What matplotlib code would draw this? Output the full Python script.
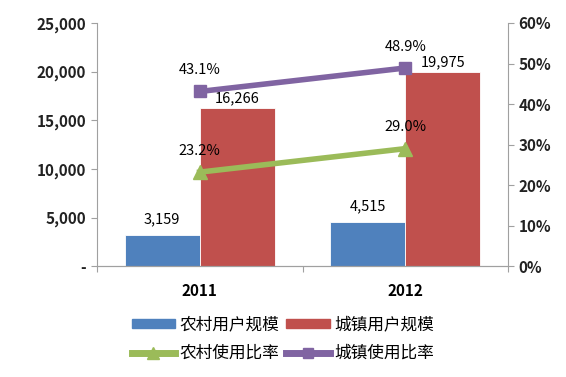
import matplotlib.pyplot as plt
import numpy as np
from matplotlib.lines import Line2D
from matplotlib.patches import Patch

plt.rcParams['font.family'] = ['Noto Sans CJK SC', 'DejaVu Sans']

years = ["2011", "2012"]
rural_users = [3159, 4515]
urban_users = [16266, 19975]
rural_rate = [23.2, 29.0]
urban_rate = [43.1, 48.9]

blue = "#4F81BD"
red = "#C0504D"
green = "#9BBB59"
purple = "#8064A2"
gray = "#A0A0A0"


def main() -> None:
    fig = plt.figure(figsize=(5.66, 3.77), dpi=100)
    ax = fig.add_axes([0.171, 0.294, 0.727, 0.645])
    x = np.arange(len(years))
    w = 0.365

    ax.bar(x - w / 2, rural_users, w, color=blue, edgecolor="white", linewidth=0.6)
    ax.bar(x + w / 2, urban_users, w, color=red, edgecolor="white", linewidth=0.6)
    for xi, v in zip(x - w / 2, rural_users):
        ax.text(xi, v + 900, f"{v:,}", ha="center", va="bottom", fontsize=10.5)
    for xi, v in zip(x + w / 2, urban_users):
        ax.text(xi, v + 300, f"{v:,}", ha="center", va="bottom", fontsize=10.5)

    ax.set_xlim(-0.5, 1.5)
    ax.set_ylim(0, 25000)
    ax.set_yticks(np.arange(0, 25001, 5000))
    ax.set_yticklabels(["-"] + [f"{v:,}" for v in range(5000, 25001, 5000)],
                       fontsize=11, fontweight="bold", color="#222222")
    ax.set_xticks([-0.5, 0.5, 1.5])
    ax.set_xticklabels([])
    for xi, yr in zip(x, years):
        ax.text(xi, -0.07, yr, transform=ax.get_xaxis_transform(), ha="center",
                va="top", fontsize=11, fontweight="bold")

    ax2 = ax.twinx()
    ax2.plot(x, rural_rate, color=green, lw=4, marker="^", ms=10, zorder=3)
    ax2.plot(x, urban_rate, color=purple, lw=4, marker="s", ms=8, zorder=3)
    for xi, v in zip(x, rural_rate):
        ax2.text(xi, v + 3.5, f"{v:.1f}%", ha="center", va="bottom", fontsize=10.5)
    for xi, v in zip(x, urban_rate):
        ax2.text(xi, v + 3.5, f"{v:.1f}%", ha="center", va="bottom", fontsize=10.5)
    ax2.set_ylim(0, 60)
    ax2.set_yticks(np.arange(0, 61, 10))
    ax2.set_yticklabels([f"{v}%" for v in range(0, 61, 10)],
                        fontsize=11, fontweight="bold", color="#222222")

    for a in (ax, ax2):
        a.spines["top"].set_visible(False)
        for s in ("left", "right", "bottom"):
            a.spines[s].set_color(gray)
        a.tick_params(colors=gray, length=4, labelcolor="#222222")
    ax.spines["right"].set_visible(False)
    ax2.spines["left"].set_visible(False)

    # legend is filled column by column, so order the handles for row layout
    handles = [
        Patch(color=blue, label="农村用户规模"),
        Line2D([], [], color=green, lw=5, marker="^", ms=8, label="农村使用比率"),
        Patch(color=red, label="城镇用户规模"),
        Line2D([], [], color=purple, lw=5, marker="s", ms=7, label="城镇使用比率"),
    ]
    fig.legend(handles=handles, ncol=2, loc="center", bbox_to_anchor=(0.5, 0.1),
               frameon=False, fontsize=12, handlelength=2.6, handleheight=0.45,
               columnspacing=0.4, handletextpad=0.3, labelspacing=0.7)

    fig.savefig("out.png", dpi=100)


if __name__ == "__main__":
    main()
